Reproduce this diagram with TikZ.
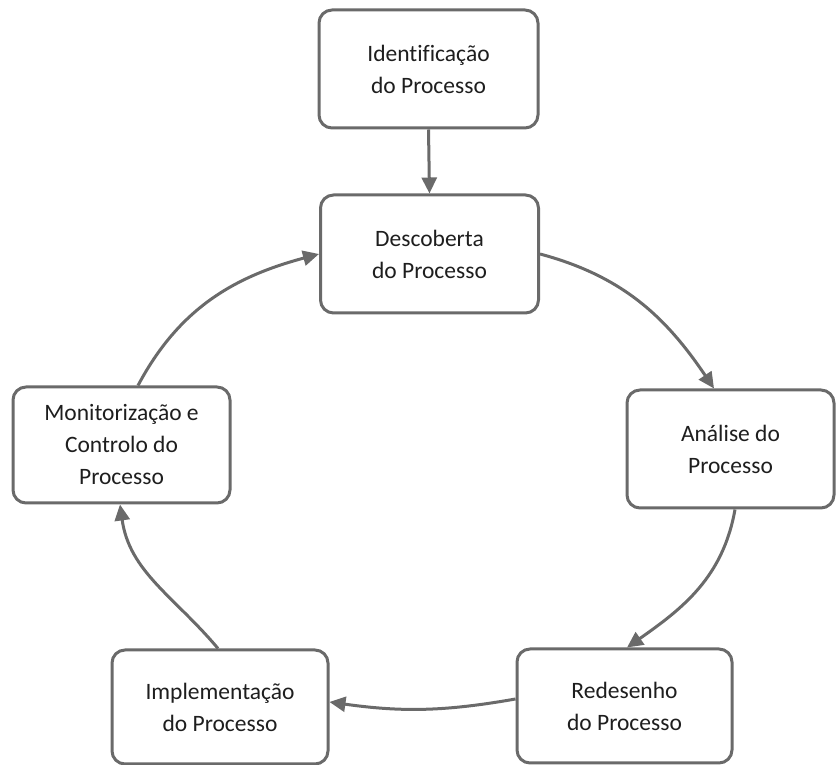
\documentclass[tikz,border=0pt]{standalone}
\usepackage{fontspec}
\setmainfont{Carlito}[Ligatures=CommonOff]
\usetikzlibrary{arrows.meta,calc}
\definecolor{edge}{HTML}{6A6A6A}
\definecolor{ink}{HTML}{1E1E1E}
\begin{document}
\begin{tikzpicture}[x=1pt,y=1pt,
  stage/.style={draw=edge, line width=3pt, rounded corners=13pt, fill=white,
    align=center, text=ink, inner sep=0pt,
    font=\fontsize{23.5}{32}\selectfont},
  flow/.style={draw=edge, line width=3pt,
    -{Triangle[length=16pt,width=15pt]}}]
  \useasboundingbox (0,0) rectangle (836,765);

  % process stages
  \node[stage, minimum width=219pt, minimum height=118pt] (ident) at (428.5,696) {Identificação\\do Processo};
  \node[stage, minimum width=218pt, minimum height=118pt] (desc)  at (429.5,511) {Descoberta\\do Processo};
  \node[stage, minimum width=207pt, minimum height=118pt] (anal)  at (730.5,316) {Análise do\\Processo};
  \node[stage, minimum width=215pt, minimum height=114pt] (rede)  at (624.5,59)  {Redesenho\\do Processo};
  \node[stage, minimum width=216pt, minimum height=114pt] (impl)  at (220,58)    {Implementação\\do Processo};
  \node[stage, minimum width=217pt, minimum height=116pt] (moni)  at (121.5,320) {Monitorização e\\Controlo do\\Processo};

  % connector anchor points on the box edges
  \coordinate (a2s) at (desc.east);
  \coordinate (a2e) at ($(anal.north)+(-16.5,0)$);
  \coordinate (a3s) at ($(anal.south)+(4.5,0)$);
  \coordinate (a3e) at ($(rede.north)+(2.5,0)$);
  \coordinate (a4s) at ($(rede.west)+(0,7)$);
  \coordinate (a4e) at ($(impl.east)+(0,5)$);
  \coordinate (a5s) at ($(impl.north)+(-2,0)$);
  \coordinate (a5e) at ($(moni.south)+(-1.5,0)$);
  \coordinate (a6s) at ($(moni.north)+(16.5,0)$);
  \coordinate (a6e) at (desc.west);

  % cycle
  \draw[flow] (ident.south) -- (desc.north);
  \draw[flow] (a2s) to[out=-15, in=124] (a2e);
  \draw[flow] (a3s) to[out=-100, in=35] (a3e);
  \draw[flow] (a4s) to[out=190, in=-8] (a4e);
  \draw[flow] (a5s) to[out=130, in=-82] (a5e);
  \draw[flow] (a6s) to[out=62, in=195] (a6e);
\end{tikzpicture}
\end{document}
